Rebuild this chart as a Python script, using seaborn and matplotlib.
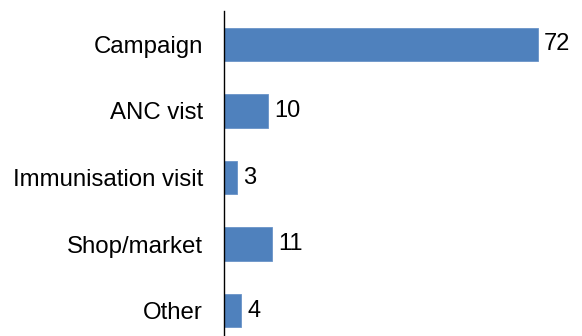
import pandas as pd
import seaborn as sns
import matplotlib.pyplot as plt

# Data
places = ["Campaign", "ANC vist", "Immunisation visit", "Shop/market", "Other"]
counts = [72, 10, 3, 11, 4]

data = pd.DataFrame({"place": places, "count": counts})

sns.set_theme(style="white")
plt.rcParams['font.family'] = ['Liberation Sans', 'DejaVu Sans']

fig = plt.figure(figsize=(5.82, 3.36), dpi=100)
ax = fig.add_axes([224 / 582, -8 / 336, 358 / 582, 333 / 336])

sns.barplot(data=data, x="count", y="place", orient="h", color="#4F81BD",
            saturation=1, width=0.5, edgecolor="#6A93C8", linewidth=0.6, ax=ax)

for cont in ax.containers:
    ax.bar_label(cont, padding=4.5, fontsize=17, color="black")

ax.set_xlim(0, 82.1)
ax.set_xlabel("")
ax.set_ylabel("")
ax.set_xticks([])
ax.tick_params(axis="y", length=0, pad=15, labelsize=17.3, labelcolor="black")
for side in ["top", "right", "bottom"]:
    ax.spines[side].set_visible(False)
ax.spines["left"].set_color("black")
ax.spines["left"].set_linewidth(1)

fig.savefig("out.png", dpi=100)
